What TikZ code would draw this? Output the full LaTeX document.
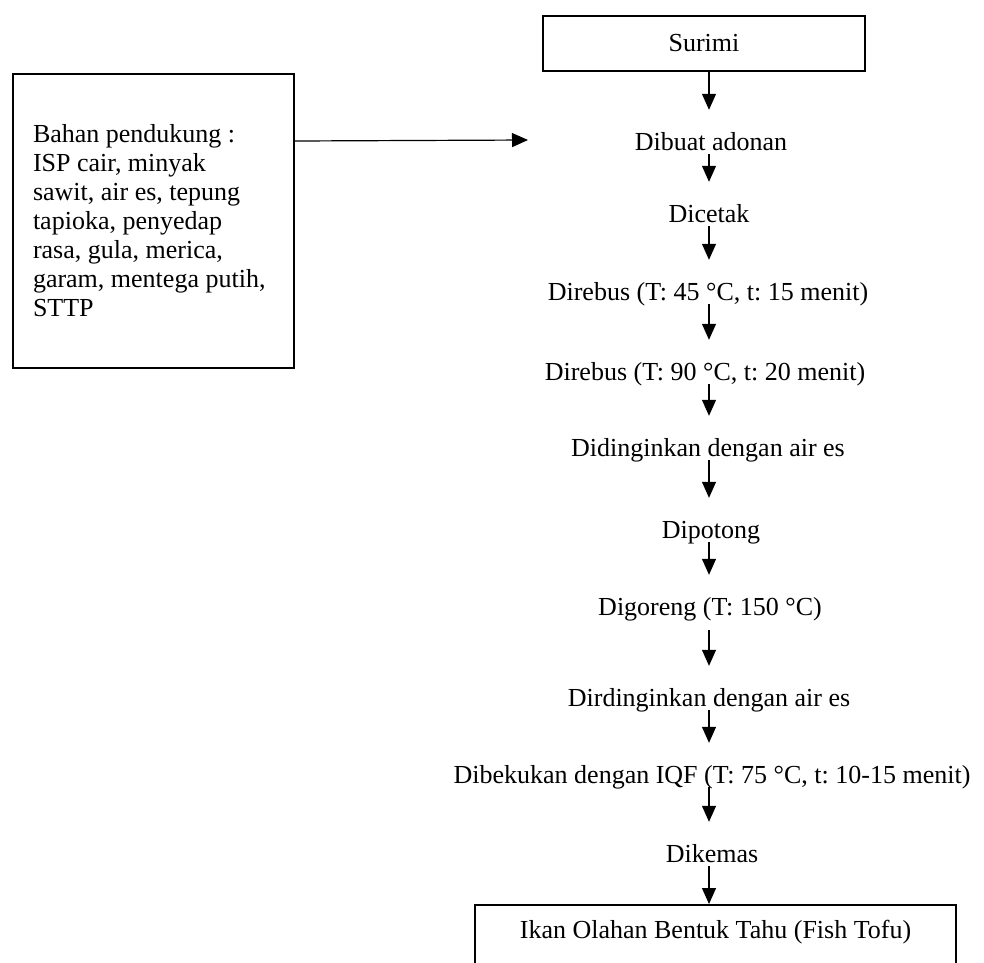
\documentclass[tikz,border=0pt]{standalone}
\usepackage{fontspec}
\setmainfont{Liberation Serif}
\usetikzlibrary{arrows.meta}
\begin{document}
\frenchspacing
\begin{tikzpicture}[x=1pt,y=-1pt,
  txt/.style={font=\fontsize{26}{29}\selectfont\frenchspacing},
  procbox/.style={txt, draw, line width=2.3pt, inner sep=0pt},
  stepnode/.style={txt, inner sep=0pt, text height=40pt, text depth=4pt, anchor=base},
  arr/.style={line width=1.2pt, -{Triangle[width=14pt,length=16pt]}}]
\useasboundingbox (0,0) rectangle (984,962);
\coordinate (ax) at (709,0);
\node[procbox, minimum width=322pt, minimum height=55pt] (surimi) at (704,43.5) {Surimi};
\node[stepnode] (s1) at (711,150) {Dibuat adonan};
\node[stepnode] (s2) at (709,222) {Dicetak};
\node[stepnode] (s3) at (708,300) {Direbus (T: 45 °C, t: 15 menit)};
\node[stepnode] (s4) at (705,380) {Direbus (T: 90 °C, t: 20 menit)};
\node[stepnode] (s5) at (708,456) {Didinginkan dengan air es};
\node[stepnode] (s6) at (711,538) {Dipotong};
\node[stepnode, text depth=15pt] (s7) at (710,615) {Digoreng (T: 150 °C)};
\node[stepnode] (s8) at (709,706) {Dirdinginkan dengan air es};
\node[stepnode] (s9) at (712,783) {Dibekukan dengan IQF (T: 75 °C, t: 10-15 menit)};
\node[stepnode] (s10) at (712,862) {Dikemas};
\node[procbox, minimum width=481pt, minimum height=66pt, text height=18pt, text depth=17pt, anchor=north] (out) at (715.5,904) {Ikan Olahan Bentuk Tahu (Fish Tofu)};
\node[procbox, minimum height=294pt, text width=241pt, inner xsep=20pt, align=flush left] (lbox) at (153.5,221) {Bahan pendukung :\\ ISP cair, minyak\\ sawit, air es, tepung\\ tapioka, penyedap\\ rasa, gula, merica,\\ garam, mentega putih,\\ STTP};
\coordinate (inpt) at (528,140);
\draw[arr] ([yshift=80pt]lbox.east) -- (inpt);
\draw[arr] (surimi.south -| ax) -- (s1.north -| ax);
\foreach \a/\b in {s1/s2,s2/s3,s3/s4,s4/s5,s5/s6,s6/s7,s7/s8,s8/s9,s9/s10,s10/out}
  \draw[arr] (\a.south -| ax) -- (\b.north -| ax);
\end{tikzpicture}
\end{document}
